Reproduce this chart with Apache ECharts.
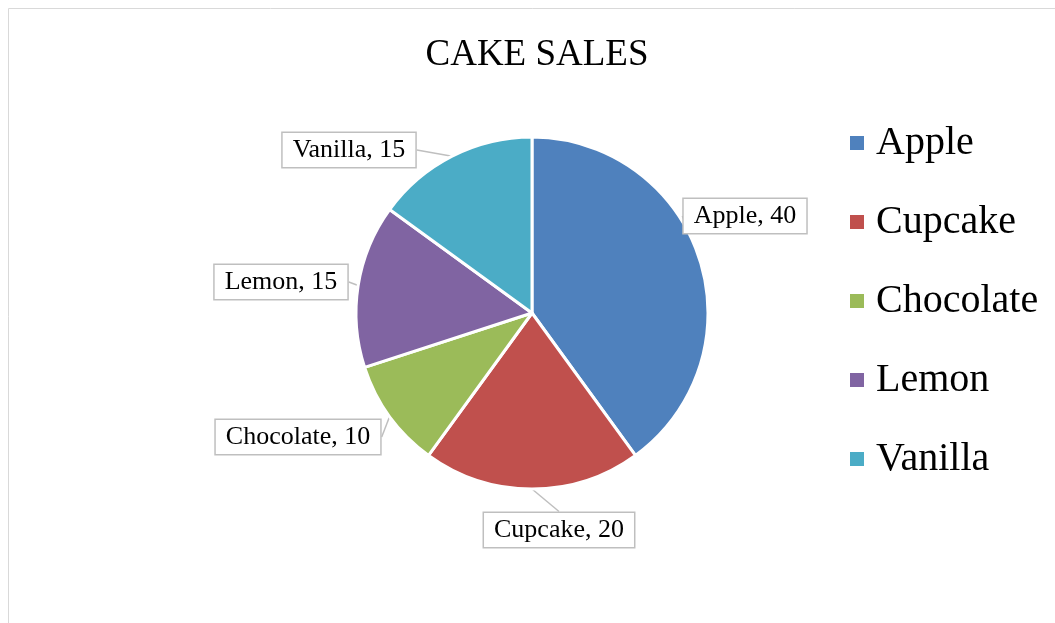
<!DOCTYPE html>
<html>
<head>
<meta charset="utf-8">
<script src="https://cdn.jsdelivr.net/npm/echarts@6/dist/echarts.min.js"></script>
<style>
  html, body { margin: 0; padding: 0; background: #fff; }
  #chart { width: 1055px; height: 623px; }
</style>
</head>
<body>
<div id="chart"></div>
<script>
// data
var cakes = ['Apple', 'Cupcake', 'Chocolate', 'Lemon', 'Vanilla'];
var sales = [40, 20, 10, 15, 15];
var colors = ['#4F81BD', '#C0504D', '#9BBB59', '#8064A2', '#4BACC6'];
// where the callout boxes sit (centre of box)
var calloutPos = [[745, 216], [559, 530], [298, 437], [281, 282], [349, 150]];

var serif = '"Liberation Serif", "Times New Roman", serif';

var pieData = [];
for (var i = 0; i < cakes.length; i++) {
	pieData.push({ name: cakes[i], value: sales[i], itemStyle: { color: colors[i] } });
}

var myChart = echarts.init(document.getElementById('chart'));
var option = {
	animation: false,
	title: {
		text: 'CAKE SALES',
		left: 532,
		textAlign: 'center',
		top: 32,
		textStyle: { fontFamily: serif, fontSize: 37, fontWeight: 'normal', color: '#000' }
	},
	legend: {
		orient: 'vertical',
		left: 848,
		top: 123,
		padding: 0,
		itemWidth: 16,
		itemHeight: 16,
		itemGap: 39,
		icon: 'rect',
		data: cakes,
		textStyle: { fontFamily: serif, fontSize: 40, lineHeight: 40, color: '#000', padding: [0, 0, 0, 6] }
	},
	graphic: [{
		type: 'rect',
		shape: { x: 8.5, y: 8.5, width: 1200, height: 800 },
		style: { fill: 'none', stroke: '#d9d9d9', lineWidth: 1 },
		silent: true
	}],
	series: [{
		type: 'pie',
		center: [532, 313],
		radius: 176,
		startAngle: 90,
		clockwise: true,
		itemStyle: { borderColor: '#fff', borderWidth: 3 },
		label: {
			show: true,
			position: 'outside',
			formatter: '{b}, {c}',
			fontFamily: serif,
			fontSize: 26,
			lineHeight: 26,
			color: '#000',
			backgroundColor: '#fff',
			borderColor: '#bfbfbf',
			borderWidth: 1.5,
			padding: [4, 10, 4, 10]
		},
		labelLine: {
			show: true,
			length: 10,
			length2: 0,
			lineStyle: { color: '#bfbfbf', width: 1.5 }
		},
		labelLayout: function (params) {
			var p = calloutPos[params.dataIndex];
			return { x: p[0], y: p[1], align: 'center', verticalAlign: 'middle' };
		},
		data: pieData
	}]
};
myChart.setOption(option);
</script>
</body>
</html>
